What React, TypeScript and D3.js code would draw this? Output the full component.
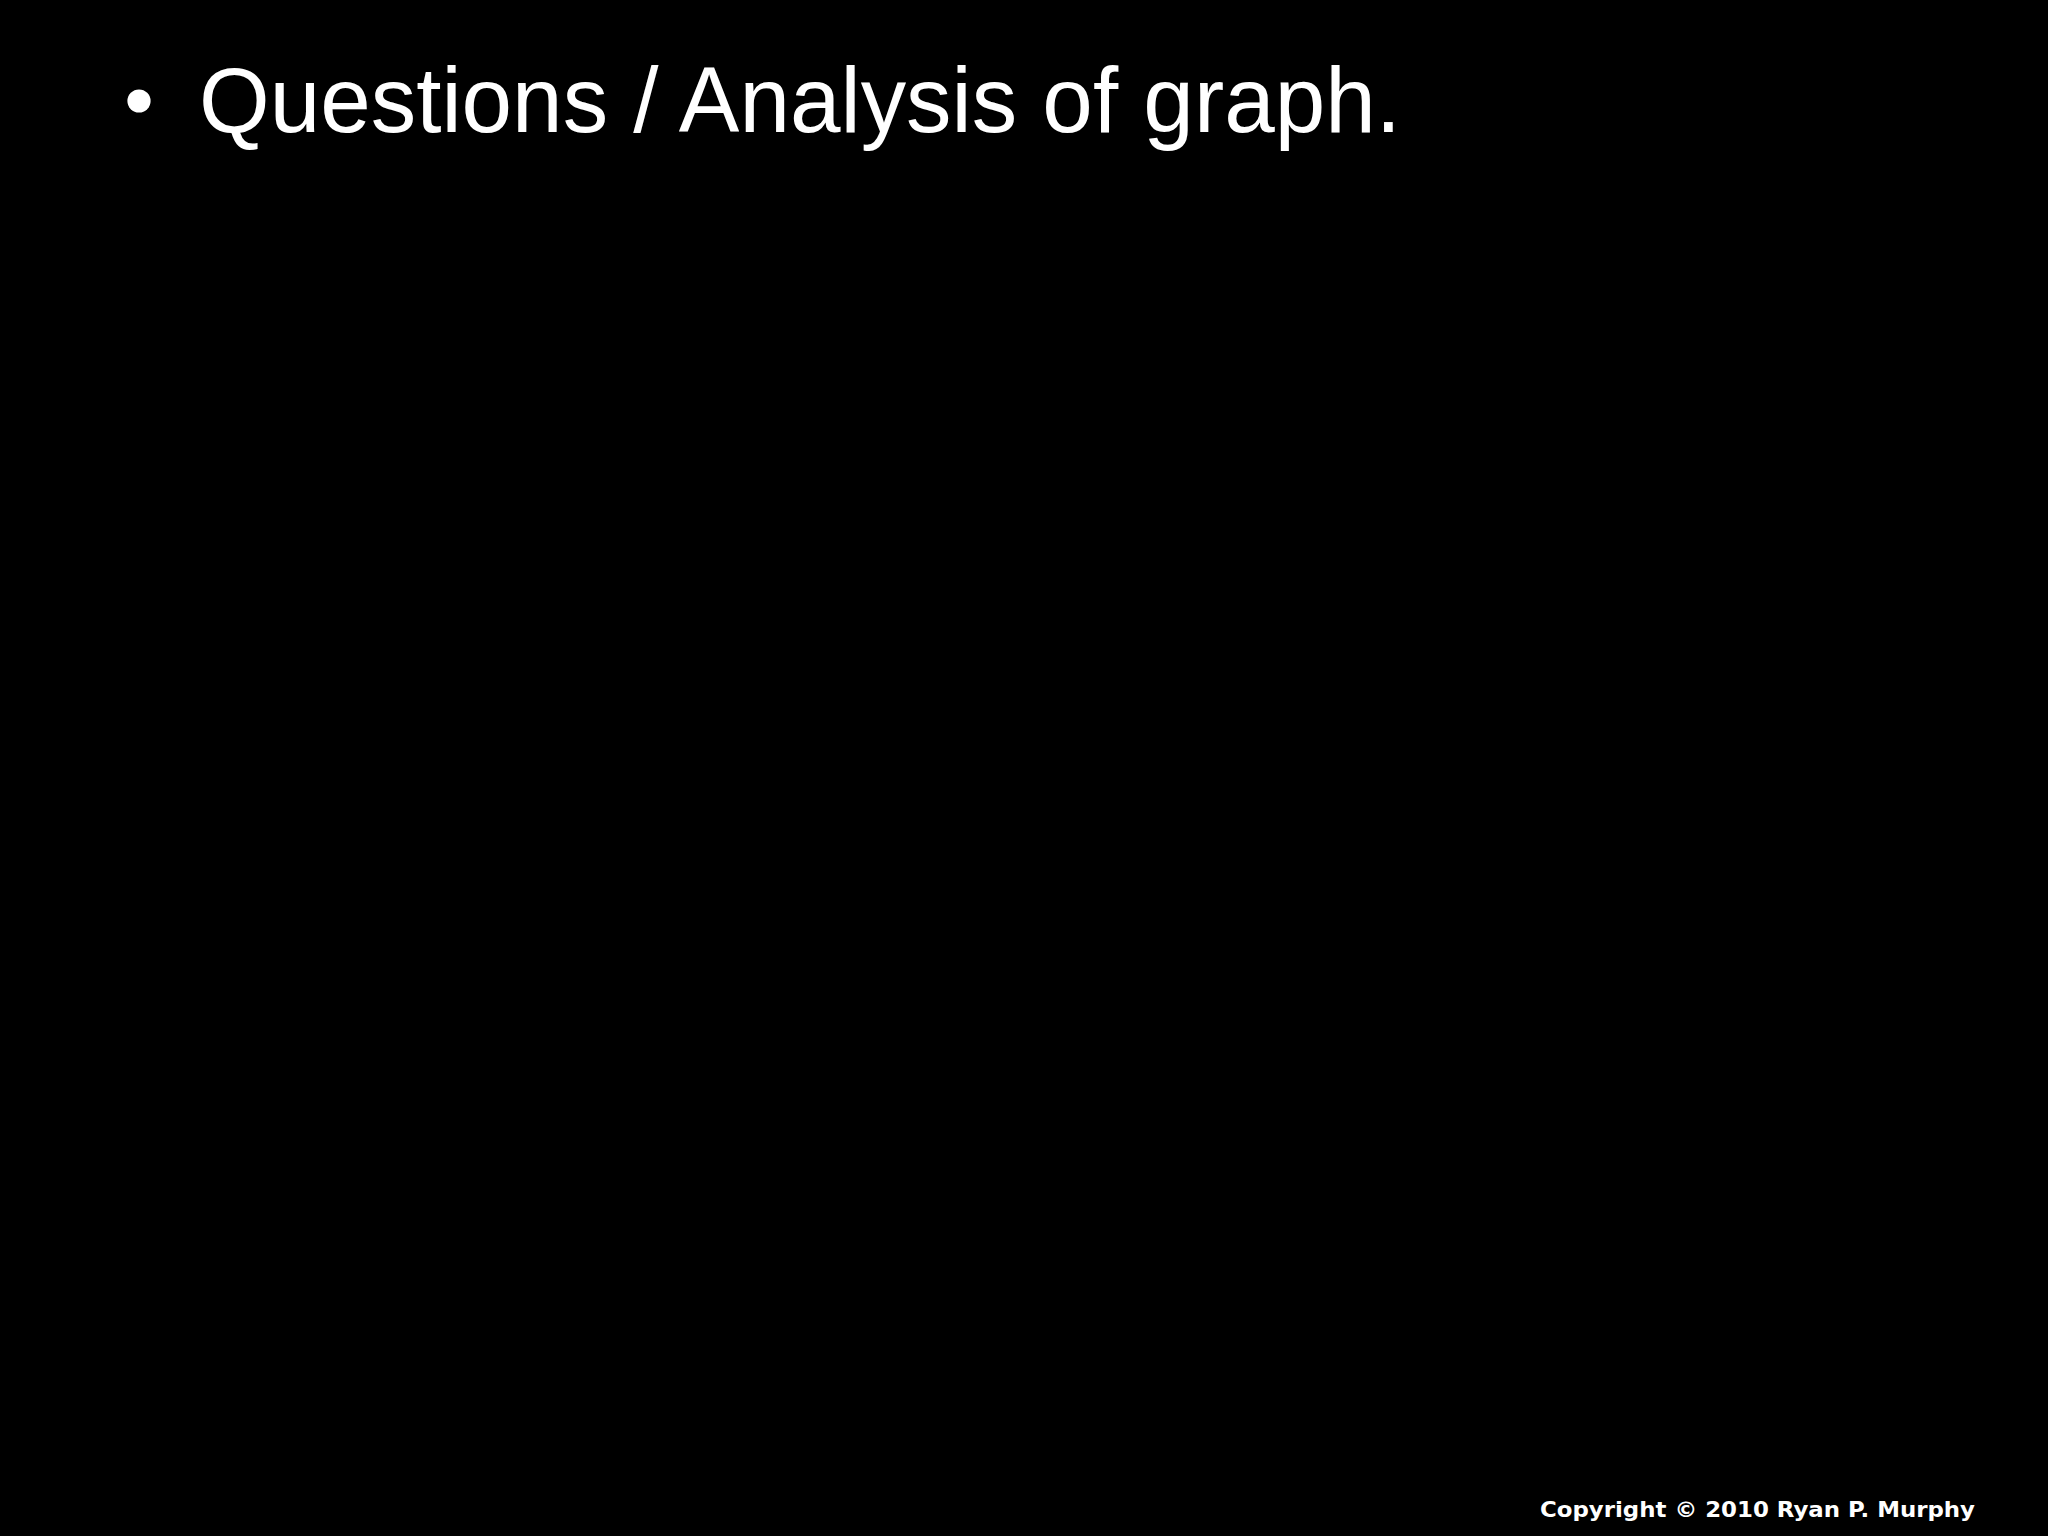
import React, { useEffect, useRef } from "react";
import * as d3 from "d3";

const bullets = ["Questions / Analysis of graph."];
const footer = ["Copyright © 2010 Ryan P. Murphy"];

export default function App() {
	const svgRef = useRef<SVGSVGElement>(null);

	useEffect(() => {
		if (!svgRef.current) return;
		const svg = d3.select(svgRef.current);
		svg.selectAll("*").remove();

		svg.append("rect").attr("width", 2048).attr("height", 1536).attr("fill", "#000");

		const y = d3.scalePoint().domain(bullets.map((d, i) => String(i))).range([132, 132]);

		const rows = svg
			.selectAll("g.bullet")
			.data(bullets)
			.enter()
			.append("g")
			.attr("class", "bullet")
			.attr("transform", (d, i) => `translate(0,${y(String(i))})`);

		rows
			.append("circle")
			.attr("cx", 139)
			.attr("cy", -31)
			.attr("r", 11.6)
			.attr("fill", "#fff");

		rows
			.append("text")
			.attr("x", 199)
			.attr("y", 0)
			.attr("fill", "#fff")
			.attr("font-family", "'Liberation Sans', Arial, sans-serif")
			.attr("font-size", 92)
			.attr("textLength", 1202)
			.attr("lengthAdjust", "spacingAndGlyphs")
			.text((d) => d);

		svg
			.selectAll("text.footer")
			.data(footer)
			.enter()
			.append("text")
			.attr("class", "footer")
			.attr("x", 1540)
			.attr("y", 1517)
			.attr("fill", "#fff")
			.attr("font-family", "'DejaVu Sans', Verdana, sans-serif")
			.attr("font-weight", "bold")
			.attr("font-size", 21.5)
			.attr("textLength", 435)
			.attr("lengthAdjust", "spacingAndGlyphs")
			.text((d) => d);
	}, []);

	return (
		<div style={{ position: "absolute", left: 0, top: 0 }}>
			<svg ref={svgRef} width={2048} height={1536} style={{ display: "block" }} />
		</div>
	);
}
